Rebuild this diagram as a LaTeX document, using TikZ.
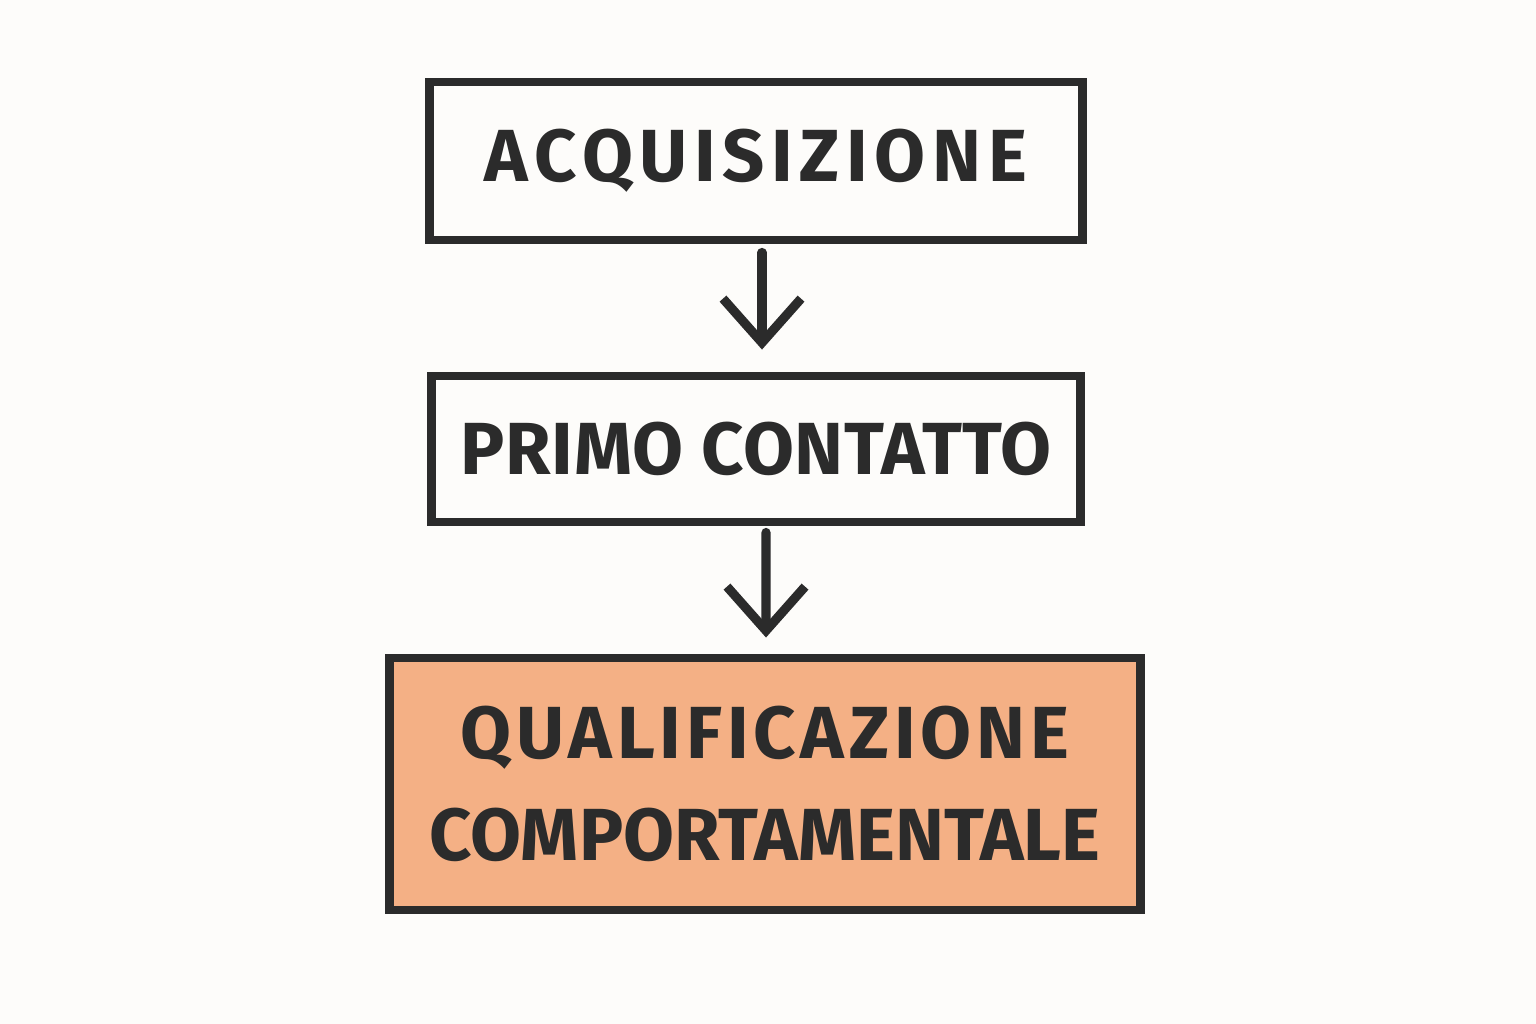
\documentclass[tikz,border=0pt]{standalone}
\usepackage{fontspec}
\setmainfont{Fira Sans}
\usetikzlibrary{arrows.meta}
\definecolor{ink}{HTML}{2B2B2B}
\definecolor{paper}{HTML}{FDFCFA}
\definecolor{peach}{HTML}{F4B085}
\newcommand{\spaced}[2]{{\addfontfeature{LetterSpace=#1}#2}}
\tikzset{
  stage/.style={draw=ink, line width=2.5pt, minimum height=#1, inner sep=0pt, align=center,
    font=\bfseries\fontsize{21}{29}\selectfont, text=ink},
  flow/.style={draw=ink, line width=2.6pt, line cap=round,
    -{Straight Barb[length=0.44cm, width=0.78cm, line width=2.6pt]}},
}
\begin{document}
\begin{tikzpicture}[x=0.01cm, y=-0.01cm]
\fill[paper] (0,0) rectangle (1536,1024);
\useasboundingbox (0,0) rectangle (1536,1024);
\node[stage=1.58cm, minimum width=6.52cm] (a) at (756,161) {\spaced{9}{ACQUISIZIONE}};
\node[stage=1.46cm, minimum width=6.48cm] (b) at (756,449) {\spaced{1}{PRIMO CONTATTO}};
\node[stage=2.52cm, minimum width=7.50cm, fill=peach] (c) at (765,784) {\spaced{6.5}{QUALIFICAZIONE}\\\spaced{0}{COMPORTAMENTALE}};
\draw[flow] ([xshift=0.06cm, yshift=-0.08cm]a.south) -- ([xshift=0.06cm, yshift=0.22cm]b.north);
\draw[flow] ([xshift=0.10cm, yshift=-0.06cm]b.south) -- ([xshift=0.01cm, yshift=0.16cm]c.north);
\end{tikzpicture}
\end{document}
